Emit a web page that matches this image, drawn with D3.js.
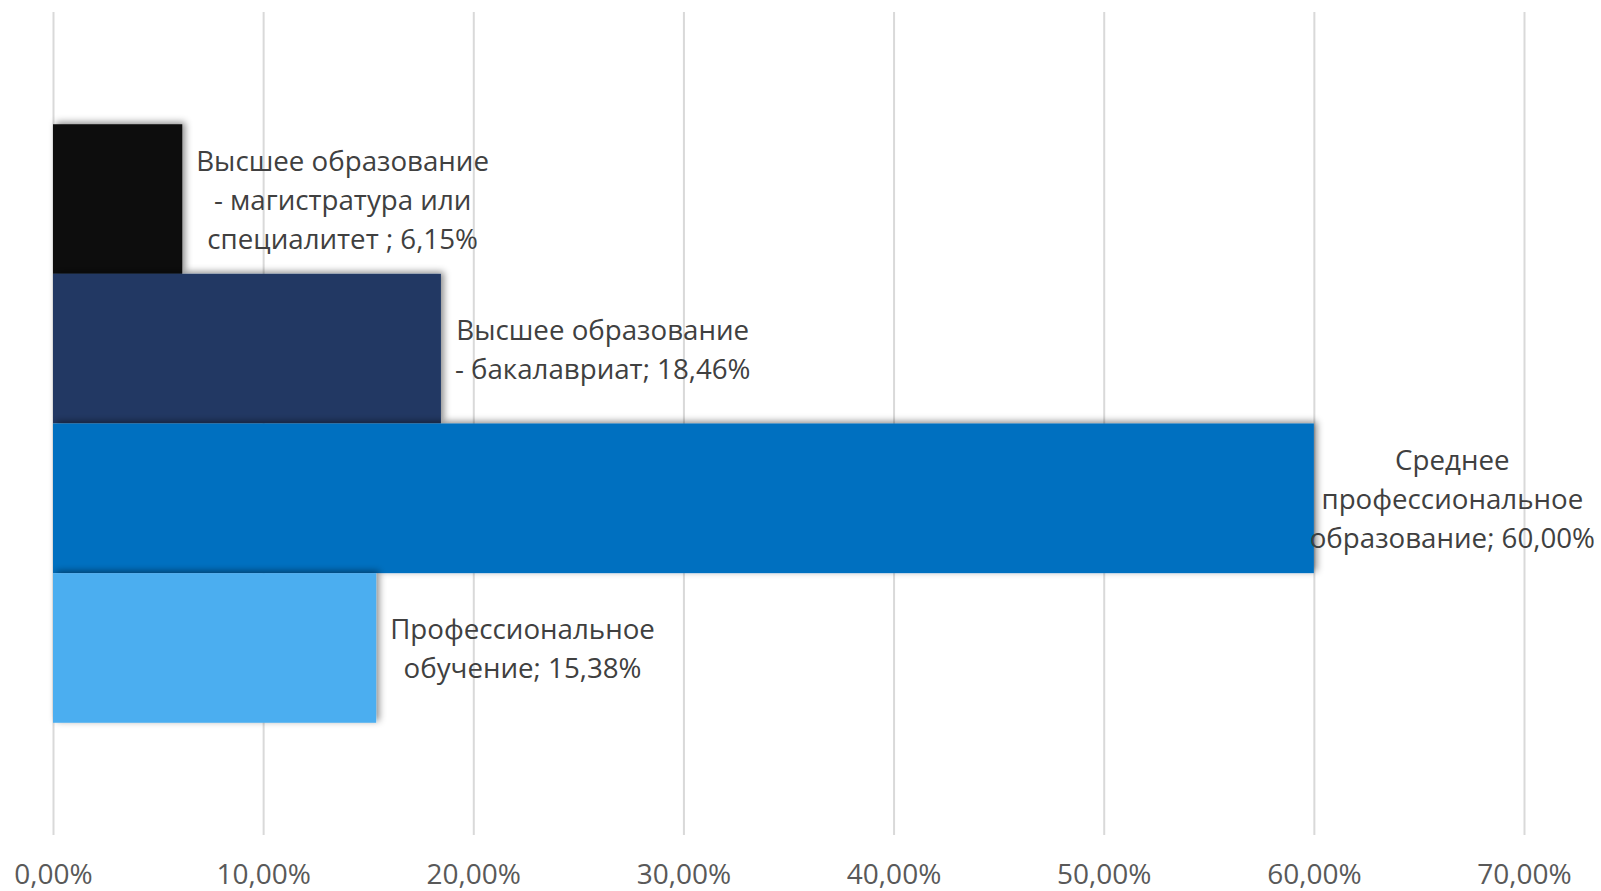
<!DOCTYPE html>
<html lang="ru">
<head>
    <meta charset="UTF-8">
    <title>Уровень образования</title>
    <script src="https://d3js.org/d3.v7.min.js"></script>
    <style>
        body { margin: 0; padding: 0; background: #fff; font-family: "Open Sans", sans-serif; }
        svg { display: block; }
        .grid line { stroke: #d9d9d9; stroke-width: 2; }
        .grid path { display: none; }
        .xaxis path, .xaxis line { display: none; }
        .xaxis text { font-family: "Open Sans", sans-serif; font-size: 28px; fill: #595959; }
        .label { font-family: "Open Sans", sans-serif; font-size: 27.7px; fill: #404040; }
    </style>
</head>
<body>
<svg id="chart" width="1601" height="891"></svg>
<script>
    // data
    const categories = [
        "Высшее образование - магистратура или специалитет",
        "Высшее образование - бакалавриат",
        "Среднее профессиональное образование",
        "Профессиональное обучение"
    ];
    const values = [6.15, 18.46, 60.00, 15.38];
    const labelLines = [
        ["Высшее образование", "- магистратура или", "специалитет ; 6,15%"],
        ["Высшее образование", "- бакалавриат; 18,46%"],
        ["Среднее", "профессиональное", "образование; 60,00%"],
        ["Профессиональное", "обучение; 15,38%"]
    ];
    const colors = ["#0d0d0d", "#203864", "#0070c0", "#4caef0"];
    const tickValues = [0, 10, 20, 30, 40, 50, 60, 70];

    const svg = d3.select("#chart");
    const plotLeft = 53, plotRight = 1524, plotTop = 12, plotBottom = 835;

    const x = d3.scaleLinear().domain([0, 70]).range([plotLeft, plotRight]);
    const y = d3.scaleBand().domain(categories).range([plotTop, plotBottom])
        .paddingInner(0).paddingOuter(0.75);

    const ru = d3.formatLocale({ decimal: ",", thousands: " ", grouping: [3], currency: ["", " ₽"] });
    const fmt = ru.format(".2f");

    // drop shadow for bars
    const defs = svg.append("defs");
    const f = defs.append("filter").attr("id", "shadow")
        .attr("x", "-10%").attr("y", "-20%").attr("width", "130%").attr("height", "140%");
    f.append("feDropShadow").attr("dx", 3).attr("dy", -2).attr("stdDeviation", 3.5)
        .attr("flood-color", "#000").attr("flood-opacity", 0.45);

    // gridlines
    svg.append("g")
        .attr("class", "grid")
        .attr("transform", `translate(0,${plotBottom})`)
        .call(d3.axisBottom(x).tickValues(tickValues).tickSize(-(plotBottom - plotTop)).tickFormat(""));

    // tick labels
    svg.append("g")
        .attr("class", "xaxis")
        .attr("transform", `translate(0,${plotBottom})`)
        .call(d3.axisBottom(x).tickValues(tickValues).tickSize(0).tickPadding(29)
            .tickFormat(d => fmt(d) + "%"));

    // bars
    svg.append("g").selectAll("rect")
        .data(categories)
        .join("rect")
        .attr("x", x(0))
        .attr("y", d => y(d))
        .attr("width", (d, i) => x(values[i]) - x(0))
        .attr("height", y.bandwidth())
        .attr("fill", (d, i) => colors[i])
        .attr("filter", "url(#shadow)");

    // data labels, outside end
    const lineH = 39, pad = 14;
    categories.forEach((c, i) => {
        const lines = labelLines[i];
        const cy = y(c) + y.bandwidth() / 2 + 1;
        const t = svg.append("text").attr("class", "label").attr("text-anchor", "middle");
        lines.forEach((ln, k) => {
            t.append("tspan")
                .attr("x", 0)
                .attr("y", cy + (k - (lines.length - 1) / 2) * lineH)
                .attr("dy", "0.35em")
                .text(ln);
        });
        const w = t.node().getBBox().width;
        let cx = x(values[i]) + pad + w / 2;
        if (cx + w / 2 > 1595) cx = 1595 - w / 2;
        t.selectAll("tspan").attr("x", cx);
    });
</script>
</body>
</html>
